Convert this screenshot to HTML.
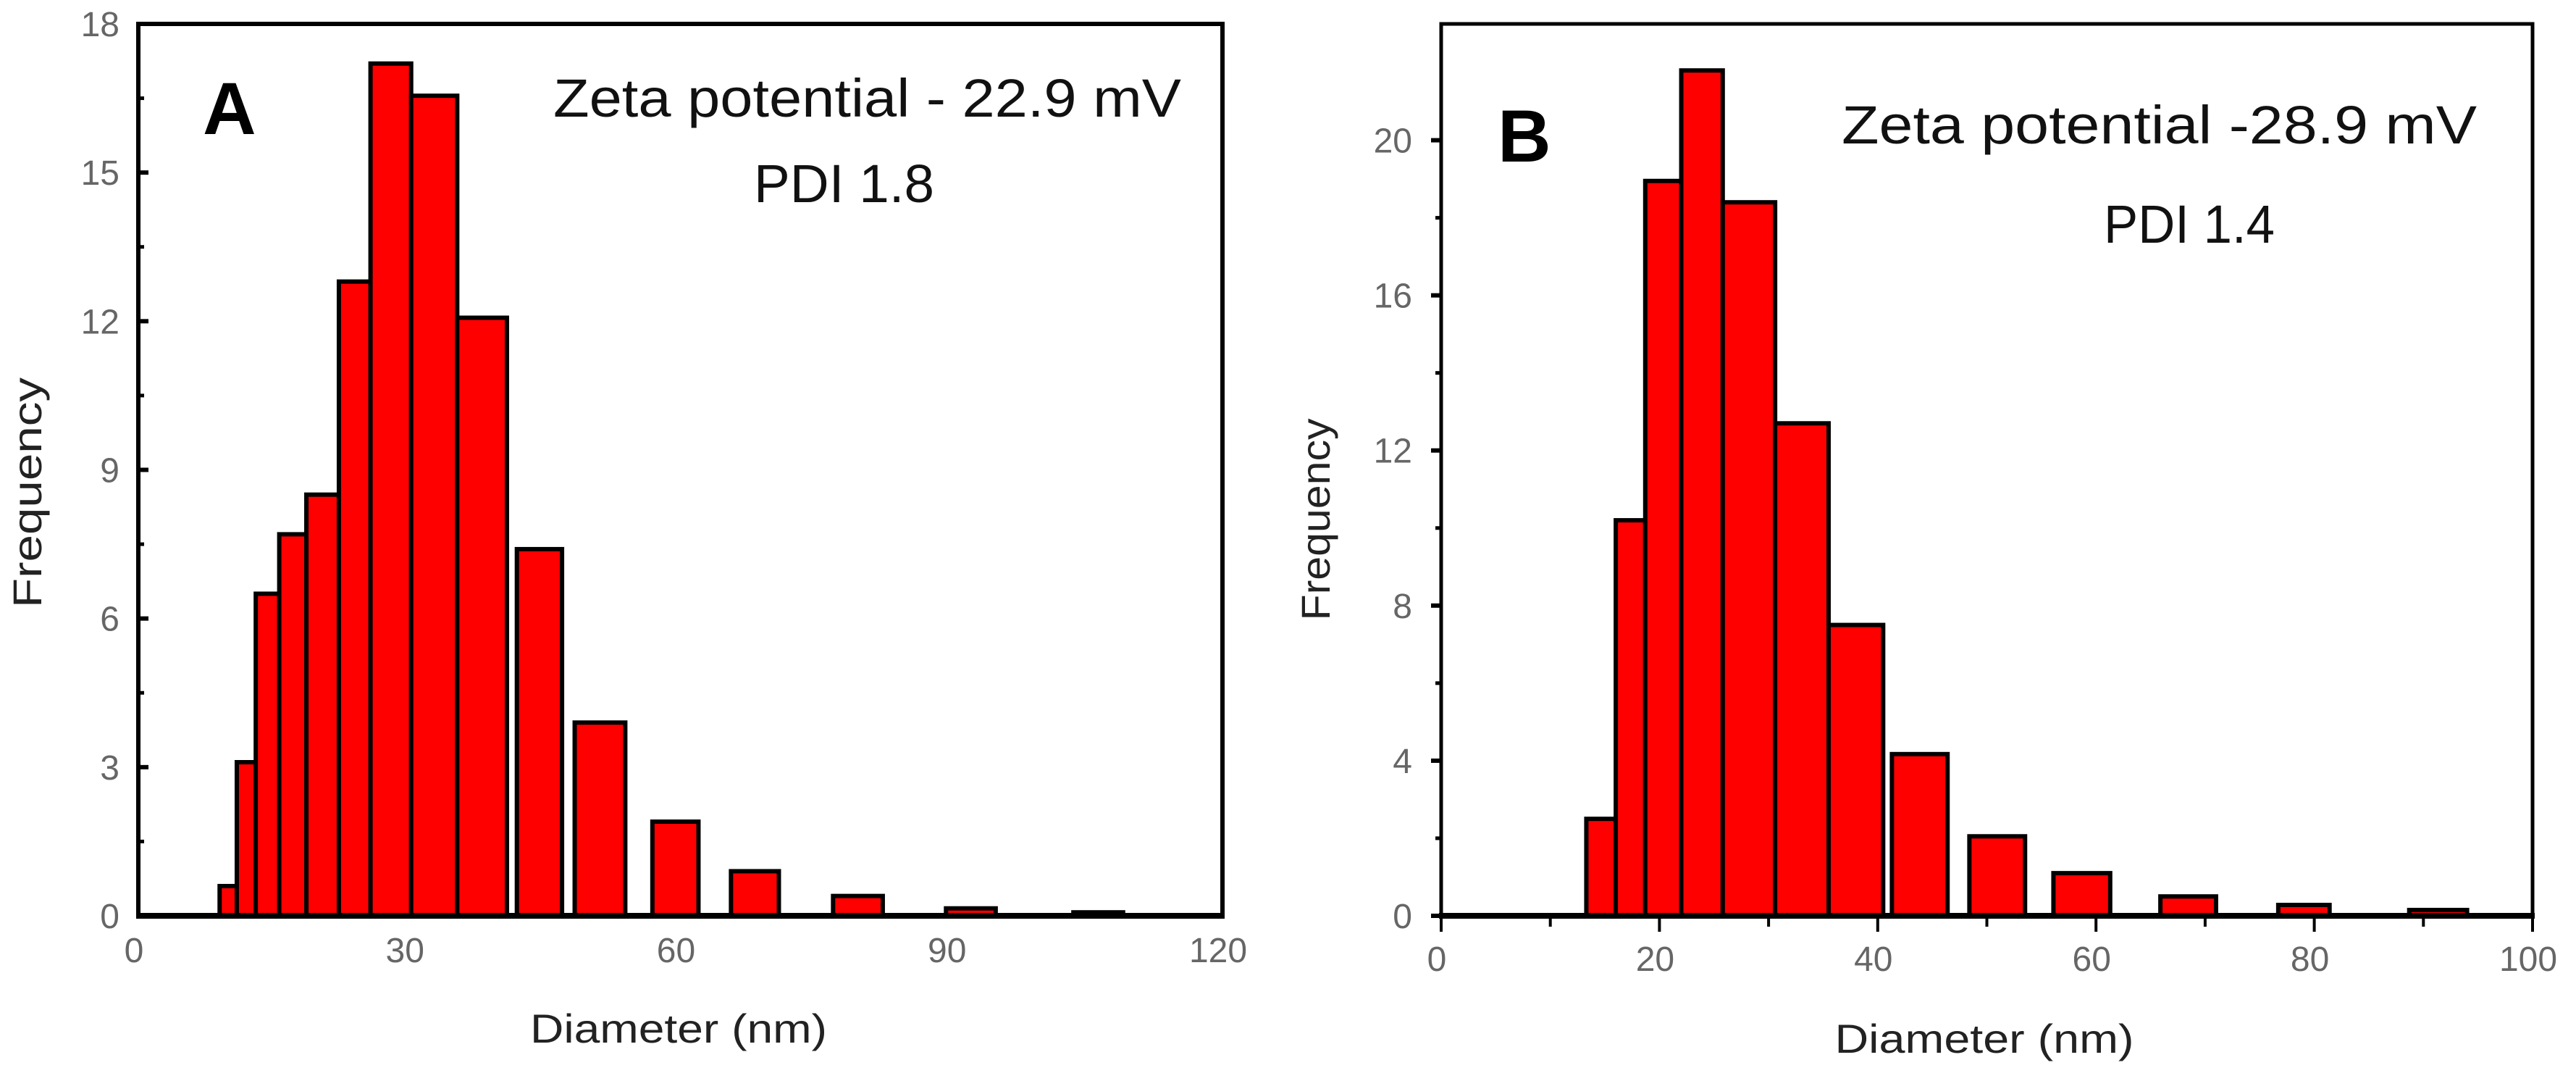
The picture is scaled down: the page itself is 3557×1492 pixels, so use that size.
<!DOCTYPE html>
<html><head><meta charset="utf-8"><style>
html,body{margin:0;padding:0;background:#fff;}
svg{display:block;}
text{font-family:"Liberation Sans",sans-serif;}
</style></head><body>
<svg id="chart" width="3557" height="1492" viewBox="0 0 3557 1492" xmlns="http://www.w3.org/2000/svg">
<g id="pa"></g>
<g id="pb"></g>
</svg>
<script>
// Panel A data
const aLeft = [9.0,10.9,13.0,15.6,18.6,22.2,25.7,30.2,35.3,41.9,48.3,56.9,65.6,76.9,89.4,103.5];
const aRight = [10.9,13.0,15.6,18.6,22.2,25.7,30.2,35.3,40.8,46.9,53.9,62.0,70.9,82.4,94.9,109.0];
const aFreq = [0.6,3.1,6.5,7.7,8.5,12.8,17.2,16.55,12.07,7.4,3.9,1.9,0.9,0.4,0.15,0.07];
const aXTicks = [0,30,60,90,120];
const aYTicks = [0,3,6,9,12,15,18];
// Panel B data
const bLeft = [13.3,16.0,18.7,22.0,25.8,30.6,35.5,41.3,48.4,56.1,65.9,76.7,88.7];
const bRight = [16.0,18.7,22.0,25.8,30.6,35.5,40.5,46.4,53.5,61.3,71.0,81.4,94.0];
const bFreq = [2.5,10.2,18.95,21.8,18.4,12.7,7.5,4.17,2.05,1.1,0.5,0.28,0.15];
const bXTicks = [0,20,40,60,80,100];
const bYTicks = [0,4,8,12,16,20];

const NS = "http://www.w3.org/2000/svg";
function mk(parent, tag, attrs, txt){
  const e = document.createElementNS(NS, tag);
  for (const k in attrs) e.setAttribute(k, attrs[k]);
  if (txt !== undefined) e.textContent = txt;
  parent.appendChild(e);
  return e;
}

function panel(g, cfg){
  const sx = v => cfg.x0 + (v - cfg.xmin) / (cfg.xmax - cfg.xmin) * (cfg.x1 - cfg.x0);
  const sy = v => cfg.y0 - (v - cfg.ymin) / (cfg.ymax - cfg.ymin) * (cfg.y0 - cfg.y1);
  for (let i = 0; i < cfg.freq.length; i++){
    const xl = sx(cfg.left[i]), xr = sx(cfg.right[i]), yt = sy(cfg.freq[i]);
    const r = mk(g, 'rect', {x: xl, y: yt, width: xr - xl, height: cfg.y0 - yt, fill: '#ff0000', stroke: '#000', 'stroke-width': 6});
    
    
  }
  const f = mk(g, 'rect', {x: cfg.x0, y: cfg.y1, width: cfg.x1 - cfg.x0, height: cfg.y0 - cfg.y1, fill: 'none', stroke: '#000', 'stroke-width': cfg.frameW});
  
  
  const xa = mk(g, 'line', {x1: cfg.x0 - 3, x2: cfg.x1 + 3, y1: cfg.y0, y2: cfg.y0, stroke: '#000', 'stroke-width': 8});
  
  
  for (let i = 0; i < cfg.yticks.length; i++){
    const v = cfg.yticks[i], y = sy(v);
    const dir = cfg.yIn ? 1 : -1;
    mk(g, 'line', {x1: cfg.x0, x2: cfg.x0 + dir * 14, y1: y, y2: y, stroke: '#000', 'stroke-width': 6});
    if (i < cfg.yticks.length - 1){
      const ym = sy(v + (cfg.yticks[1] - cfg.yticks[0]) / 2);
      mk(g, 'line', {x1: cfg.x0, x2: cfg.x0 + dir * 8, y1: ym, y2: ym, stroke: '#000', 'stroke-width': 5});
    }
    const t = mk(g, 'text', {x: cfg.x0 - cfg.yLabOff, y: y + 17, 'text-anchor': 'end', 'font-size': 48, fill: '#666'}, String(v));
    
    
  }
  for (let i = 0; i < cfg.xticks.length; i++){
    const v = cfg.xticks[i], x = sx(v);
    if (cfg.xOut){
      mk(g, 'line', {x1: x, x2: x, y1: cfg.y0, y2: cfg.y0 + 22, stroke: '#000', 'stroke-width': 4});
      if (i < cfg.xticks.length - 1){
        const xm = sx(v + (cfg.xticks[1] - cfg.xticks[0]) / 2);
        mk(g, 'line', {x1: xm, x2: xm, y1: cfg.y0, y2: cfg.y0 + 15, stroke: '#000', 'stroke-width': 4});
      }
    }
    const t = mk(g, 'text', {x: x - 6, y: cfg.xLabY, 'text-anchor': 'middle', 'font-size': 48, fill: '#666'}, String(v));
    
    
  }
  const xt = mk(g, 'text', {x: cfg.xTitleX - cfg.xTitleW / 2, y: cfg.xTitleY, 'font-size': 56, fill: '#222', textLength: cfg.xTitleW, lengthAdjust: 'spacingAndGlyphs'}, 'Diameter (nm)');
  
  
  const yt = mk(g, 'text', {x: -cfg.yTitleW / 2, y: 0, 'font-size': 56, fill: '#222', textLength: cfg.yTitleW, lengthAdjust: 'spacingAndGlyphs', transform: 'translate(' + cfg.yTitleX + ',' + cfg.yTitleY + ') rotate(-90)'}, 'Frequency');
  
  
  const pl = mk(g, 'text', {x: cfg.letterX, y: cfg.letterY, 'font-size': 102, 'font-weight': 'bold', fill: '#000'}, cfg.letter);
  
  
  const z = mk(g, 'text', {x: cfg.zX, y: cfg.zY, 'font-size': 74, fill: '#111', textLength: cfg.zW, lengthAdjust: 'spacingAndGlyphs'}, cfg.zText);
  
  
  const p = mk(g, 'text', {x: cfg.pX, y: cfg.pY, 'font-size': 74, fill: '#111', textLength: cfg.pW, lengthAdjust: 'spacingAndGlyphs'}, cfg.pText);
  
  
}

panel(document.getElementById('pa'), {
  left: aLeft, right: aRight, freq: aFreq, xticks: aXTicks, yticks: aYTicks,
  x0: 191, x1: 1688, xmin: 0, xmax: 120, y0: 1264, y1: 33, ymin: 0, ymax: 18,
  frameW: 6, yIn: true, xOut: false, yLabOff: 26, xLabY: 1328,
  xTitleX: 937, xTitleY: 1439, xTitleW: 410, yTitleX: 57, yTitleY: 680, yTitleW: 318,
  letter: 'A', letterX: 280, letterY: 185,
  zText: 'Zeta potential - 22.9 mV', zX: 764, zY: 161, zW: 867,
  pText: 'PDI 1.8', pX: 1041, pY: 279, pW: 249
});
panel(document.getElementById('pb'), {
  left: bLeft, right: bRight, freq: bFreq, xticks: bXTicks, yticks: bYTicks,
  x0: 1990, x1: 3497, xmin: 0, xmax: 100, y0: 1264, y1: 33, ymin: 0, ymax: 23,
  frameW: 5, yIn: false, xOut: true, yLabOff: 40, xLabY: 1340,
  xTitleX: 2740, xTitleY: 1453, xTitleW: 413, yTitleX: 1836, yTitleY: 717, yTitleW: 279,
  letter: 'B', letterX: 2068, letterY: 223,
  zText: 'Zeta potential -28.9 mV', zX: 2543, zY: 198, zW: 877,
  pText: 'PDI 1.4', pX: 2905, pY: 335, pW: 236
});
</script>
</body></html>
